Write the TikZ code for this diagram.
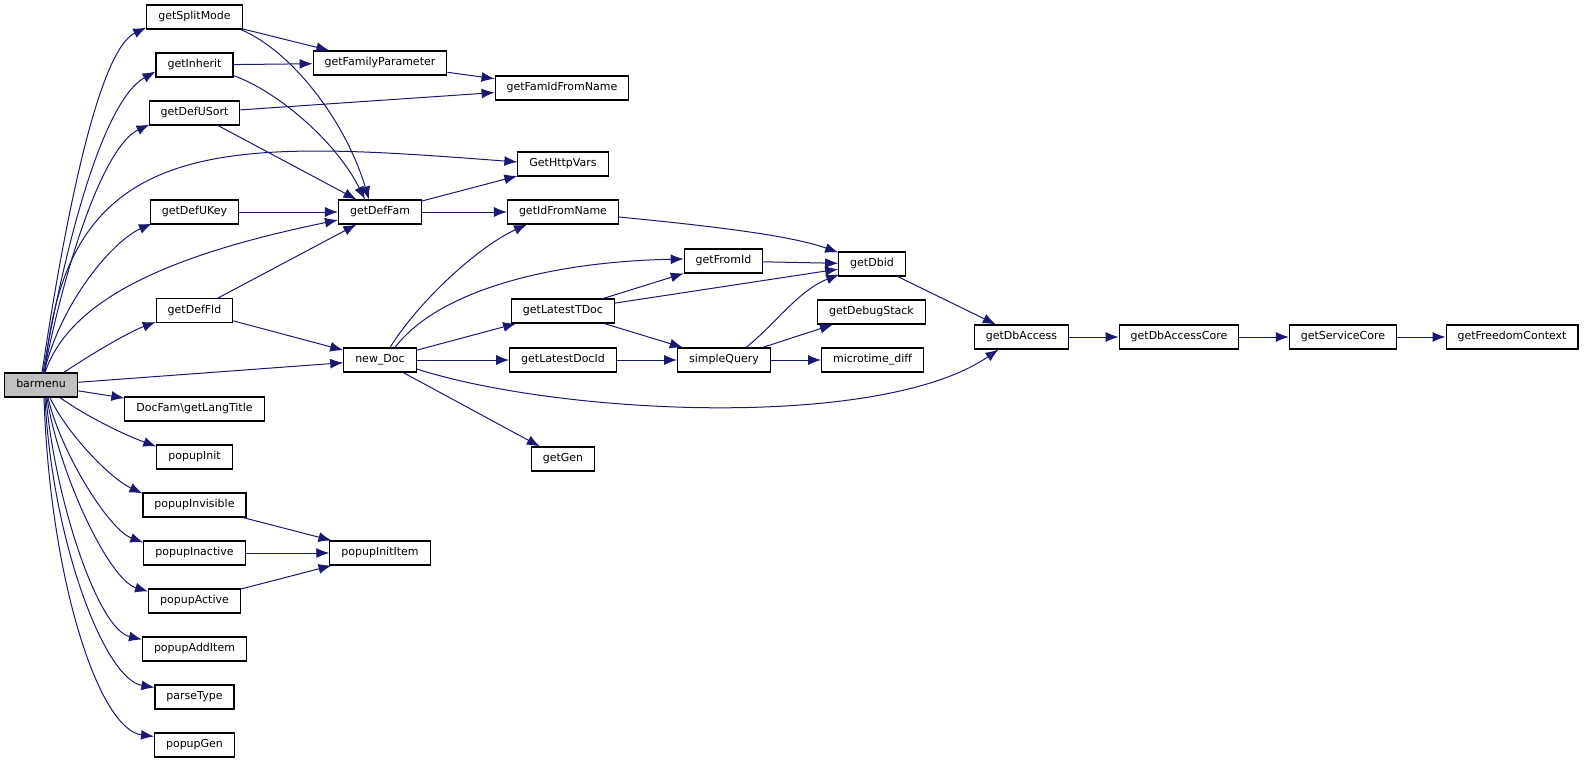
\documentclass[tikz,border=0pt]{standalone}
\usepackage{fontspec}
\setmainfont{DejaVu Sans}
\usepackage{tikz}
\usetikzlibrary{arrows.meta}
\usetikzlibrary{positioning}
\definecolor{edgeblue}{RGB}{25,25,112}
\definecolor{rootgray}{RGB}{191,191,191}
\tikzset{fn/.style = {draw, line width = 1.1, inner xsep = 11.5, inner ysep = 0, minimum height = 24, text height = 8, text depth = 2.5, font = \fontsize{11}{13}\selectfont}}
\tikzset{root/.style = {fn, fill = rootgray}}
\tikzset{call/.style = {draw = edgeblue, line width = 1, -{Latex[length = 13pt, width = 10pt]}}}

\begin{document}
\begin{tikzpicture}[x = 1pt, y = 1pt]
    \useasboundingbox (0, 0) rectangle (1584, -763);
    \node [root] (barmenu) at (41, -385) {barmenu};
    \node [fn] (getSplitMode) at (194.5, -17) {getSplitMode};
    \node [fn] (getInherit) at (194.5, -65) {getInherit};
    \node [fn] (getDefUSort) at (194.5, -113) {getDefUSort};
    \node [fn] (getDefUKey) at (194.5, -212) {getDefUKey};
    \node [fn] (getDefFld) at (194.5, -310.5) {getDefFld};
    \node [fn] (getLangTitle) at (194.5, -409) {DocFam\textbackslash getLangTitle};
    \node [fn] (popupInit) at (194.5, -457) {popupInit};
    \node [fn] (popupInvisible) at (194.5, -505) {popupInvisible};
    \node [fn] (popupInactive) at (194.5, -553) {popupInactive};
    \node [fn] (popupActive) at (194.5, -601) {popupActive};
    \node [fn] (popupAddItem) at (194.5, -649) {popupAddItem};
    \node [fn] (parseType) at (194.5, -697) {parseType};
    \node [fn] (popupGen) at (194.5, -745) {popupGen};
    \node [fn] (getFamilyParameter) at (380, -63) {getFamilyParameter};
    \node [fn] (getDefFam) at (380, -212) {getDefFam};
    \node [fn] (newDoc) at (380, -360) {new\_Doc};
    \node [fn] (popupInitItem) at (380, -553) {popupInitItem};
    \node [fn] (getFamIdFromName) at (562, -88) {getFamIdFromName};
    \node [fn] (GetHttpVars) at (563, -164) {GetHttpVars};
    \node [fn] (getIdFromName) at (563, -212) {getIdFromName};
    \node [fn] (getLatestTDoc) at (563, -311) {getLatestTDoc};
    \node [fn] (getLatestDocId) at (563, -360) {getLatestDocId};
    \node [fn] (getGen) at (563, -459) {getGen};
    \node [fn] (getFromId) at (723.5, -261) {getFromId};
    \node [fn] (simpleQuery) at (724, -360) {simpleQuery};
    \node [fn] (getDbid) at (872, -264) {getDbid};
    \node [fn] (getDebugStack) at (871.5, -312) {getDebugStack};
    \node [fn] (microtimeDiff) at (872.5, -360) {microtime\_diff};
    \node [fn] (getDbAccess) at (1021.5, -337) {getDbAccess};
    \node [fn] (getDbAccessCore) at (1179, -337) {getDbAccessCore};
    \node [fn] (getServiceCore) at (1343, -337) {getServiceCore};
    \node [fn] (getFreedomContext) at (1512, -337) {getFreedomContext};
    \draw [call] ([xshift = 1pt] barmenu.north) .. controls +(23, 153) and +(-48, -23) .. ([yshift = 2pt] getSplitMode.south west);
    \draw [call] ([xshift = 2pt] barmenu.north) .. controls +(23, 133) and +(-52, -29) .. ([yshift = 6pt] getInherit.south west);
    \draw [call] ([xshift = 3pt] barmenu.north) .. controls +(22, 113) and +(-45, -21) .. ([xshift = 1pt, yshift = 1pt] getDefUSort.south west);
    \draw [call] ([xshift = 4pt] barmenu.north) .. controls +(20, 243) and +(-288, 22) .. ([yshift = 2pt] GetHttpVars.west);
    \draw [call] ([xshift = 3pt] barmenu.north) .. controls +(18, 73) and +(-38, -17) .. ([xshift = 2pt, yshift = 1pt] getDefUKey.south west);
    \draw [call] ([xshift = 4pt] barmenu.north) .. controls +(25, 73) and +(-170, -35) .. ([yshift = -8pt] getDefFam.west);
    \draw [call] ([xshift = -14pt] barmenu.north east) .. controls +(27, 18) and +(-27, -10) .. ([yshift = 1pt] getDefFld.south west);
    \draw [call] (barmenu) -- (newDoc);
    \draw [call] (barmenu) -- (getLangTitle);
    \draw [call] ([xshift = 19pt] barmenu.south) .. controls +(25, -18) and +(-33, 12) .. ([yshift = -2pt] popupInit.north west);
    \draw [call] ([xshift = 9pt] barmenu.south) .. controls +(15, -33) and +(-34, 16) .. ([yshift = -1pt] popupInvisible.north west);
    \draw [call] ([xshift = 7pt] barmenu.south) .. controls +(12, -53) and +(-35, 13) .. ([yshift = -2pt] popupInactive.north west);
    \draw [call] ([xshift = 6pt] barmenu.south) .. controls +(11, -73) and +(-40, 12) .. ([yshift = -3pt] popupActive.north west);
    \draw [call] ([xshift = 5pt] barmenu.south) .. controls +(9, -103) and +(-44, 10) .. ([yshift = -3pt] popupAddItem.north west);
    \draw [call] ([xshift = 4pt] barmenu.south) .. controls +(7, -143) and +(-50, 8) .. ([yshift = -3pt] parseType.north west);
    \draw [call] ([xshift = 3pt] barmenu.south) .. controls +(6, -183) and +(-55, 7) .. ([yshift = -4pt] popupGen.north west);
    \draw [call] (getSplitMode) -- (getFamilyParameter);
    \draw [call] ([xshift = -2pt] getSplitMode.south east) .. controls +(50, -21) and +(-24, 80) .. ([xshift = -11pt] getDefFam.north);
    \draw [call] (getInherit) -- (getFamilyParameter);
    \draw [call] ([yshift = 2pt] getInherit.south east) .. controls +(42, -15) and +(-30, 60) .. ([xshift = -15pt] getDefFam.north);
    \draw [call] (getDefUSort) -- (getFamIdFromName);
    \draw [call] (getDefUSort) -- (getDefFam);
    \draw [call] (getDefUKey) -- (getDefFam);
    \draw [call] (getDefFld) -- (getDefFam);
    \draw [call] (getDefFld) -- (newDoc);
    \draw [call] (getFamilyParameter) -- (getFamIdFromName);
    \draw [call] (getDefFam) -- (GetHttpVars);
    \draw [call] (getDefFam) -- (getIdFromName);
    \draw [call] ([xshift = 10pt] newDoc.north) .. controls +(30, 48) and +(-47, -21) .. ([xshift = -36pt] getIdFromName.south);
    \draw [call] ([xshift = 15pt] newDoc.north) .. controls +(40, 53) and +(-144, -3) .. ([yshift = 2pt] getFromId.west);
    \draw [call] (newDoc) -- (getLatestTDoc);
    \draw [call] (newDoc) -- (getLatestDocId);
    \draw [call] ([yshift = -9pt] newDoc.east) .. controls +(144, -46) and +(-118, -81) .. ([xshift = -23pt] getDbAccess.south);
    \draw [call] (newDoc) -- (getGen);
    \draw [call] ([yshift = -5pt] getIdFromName.east) .. controls +(81, -8) and +(-50, 18) .. ([yshift = -1pt] getDbid.north west);
    \draw [call] (getFromId) -- (getDbid);
    \draw [call] (getLatestTDoc) -- (getFromId);
    \draw [call] (getLatestTDoc) -- (getDbid);
    \draw [call] (getLatestTDoc) -- (simpleQuery);
    \draw [call] (getLatestDocId) -- (simpleQuery);
    \draw [call] ([xshift = 22pt] simpleQuery.north) .. controls +(29, 23) and +(-41, -16) .. ([xshift = 1pt, yshift = 2pt] getDbid.south west);
    \draw [call] (simpleQuery) -- (getDebugStack);
    \draw [call] (simpleQuery) -- (microtimeDiff);
    \draw [call] (getDbid) -- (getDbAccess);
    \draw [call] (getDbAccess) -- (getDbAccessCore);
    \draw [call] (getDbAccessCore) -- (getServiceCore);
    \draw [call] (getServiceCore) -- (getFreedomContext);
    \draw [call] (popupInvisible) -- (popupInitItem);
    \draw [call] (popupInactive) -- (popupInitItem);
    \draw [call] (popupActive) -- (popupInitItem);
\end{tikzpicture}
\end{document}
